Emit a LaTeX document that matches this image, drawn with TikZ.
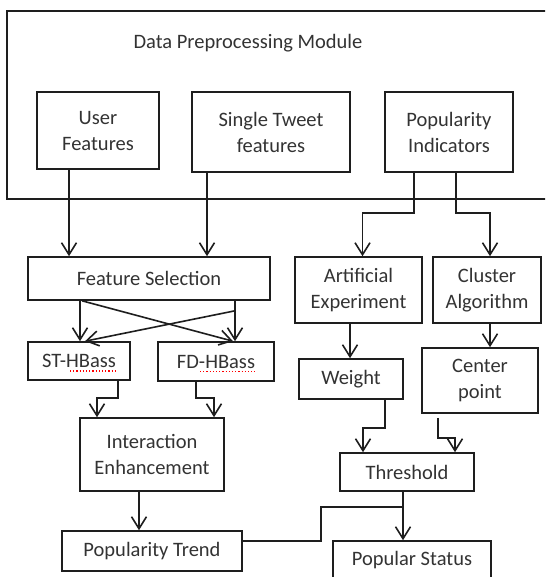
\documentclass[tikz,border=0pt]{standalone}
\usepackage{fontspec}
\setmainfont{Carlito}
\usetikzlibrary{arrows.meta}
\definecolor{ln}{HTML}{1E1E1E}
\definecolor{txt}{HTML}{333333}
\begin{document}
\begin{tikzpicture}[x=1pt,y=-1pt,
  every node/.style={font=\fontsize{20.5}{26}\selectfont, text=txt},
  box/.style={draw=ln, line width=1.6, inner sep=0pt, align=center},
  conn/.style={draw=ln, line width=1.6},
  arr/.style={conn, -{Straight Barb[length=12pt,width=15pt,line width=1.6pt]}},
  squig/.style={draw=red, line width=1.2, dotted}]
\clip (0,0) rectangle (545,577);
\fill[white] (0,0) rectangle (545,577);
% module
\node[box, minimum width=553, minimum height=188] (module) at (283.5,105) {};
\node (title) at (248,43) {Data Preprocessing Module};
\node[box, minimum width=122, minimum height=77] (user) at (98,130.5) {User\\Features};
\node[box, minimum width=158, minimum height=80] (single) at (271,132) {Single Tweet\\features};
\node[box, minimum width=128, minimum height=80] (popind) at (449,132) {Popularity\\Indicators};
% left branch
\node[box, minimum width=242, minimum height=43] (featsel) at (149,278.5) {Feature Selection};
\node[box, minimum width=102, minimum height=38] (st) at (79,361) {ST-HBass};
\node[box, minimum width=116, minimum height=39] (fd) at (216,361.5) {FD-HBass};
\node[box, minimum width=144, minimum height=73] (inter) at (152,454.5) {Interaction\\Enhancement};
\node[box, minimum width=180, minimum height=40] (trend) at (152,551) {Popularity Trend};
% right branch
\node[box, minimum width=127, minimum height=66] (artif) at (358.5,290) {Artificial\\Experiment};
\node[box, minimum width=108, minimum height=66] (cluster) at (487,290) {Cluster\\Algorithm};
\node[box, minimum width=104, minimum height=40] (weight) at (351,379) {Weight};
\node[box, minimum width=116, minimum height=65] (center) at (480,380.5) {Center\\point};
\node[box, minimum width=134, minimum height=38] (thresh) at (407,472) {Threshold};
\node[box, minimum width=158, minimum height=38] (status) at (412,560) {Popular Status};
% spell-check marks
\draw[squig] ([xshift=-9,yshift=-10]st.center) -- ([xshift=36,yshift=-10]st.center);
\draw[squig] ([xshift=-16,yshift=-10]fd.center) -- ([xshift=39,yshift=-10]fd.center);
% connectors top
\coordinate (uA) at ([xshift=-29]user.south);
\draw[arr] (uA) -- (uA |- featsel.north);
\coordinate (sA) at ([xshift=-64]single.south);
\draw[arr] (sA) -- (sA |- featsel.north);
\coordinate (pA) at ([xshift=-35]popind.south);
\draw[arr] (pA) |- ([xshift=4,yshift=43]artif.north) -- ([xshift=4]artif.north);
\coordinate (pB) at ([xshift=7]popind.south);
\draw[arr] (pB) |- ([xshift=3,yshift=43]cluster.north) -- ([xshift=3]cluster.north);
% feature selection crossing
\coordinate (fA) at ([xshift=-69]featsel.south);
\coordinate (fB) at ([xshift=86]featsel.south);
\draw[arr] (fA) -- (fA |- st.north);
\draw[arr] (fB) -- (fB |- fd.north);
\draw[arr] ([xshift=-67]featsel.south) -- ([xshift=17]fd.north);
\draw[arr] ([yshift=-10]fB) -- ([xshift=6]st.north);
% to interaction
\draw[arr] ([xshift=39]st.south) -- ++(0,17) -| ([xshift=-55]inter.north);
\draw[arr] ([xshift=-20]fd.south) -- ++(0,16) -| ([xshift=62]inter.north);
\coordinate (iA) at ([xshift=-13]inter.south);
\draw[arr] (iA) -- (iA |- trend.north);
% right column
\coordinate (aA) at ([xshift=-8.5]artif.south);
\draw[arr] (aA) -- (aA |- weight.north);
\coordinate (cA) at ([xshift=3]cluster.south);
\draw[arr] (cA) -- (cA |- center.north);
\draw[arr] ([xshift=34]weight.south) -- ++(0,28) -| ([xshift=-44]thresh.north);
\draw[arr] ([xshift=-42,yshift=-4]center.south) -- ++(0,20) -| ([xshift=48]thresh.north);
\coordinate (tA) at ([xshift=-4]thresh.south);
\draw[arr] (tA) -- (tA |- status.north);
\coordinate (j) at ([xshift=-4,yshift=-15]thresh.south);
\draw[conn] ([yshift=10]trend.east) -| ([xshift=-82]j) -- (j);
\end{tikzpicture}
\end{document}
